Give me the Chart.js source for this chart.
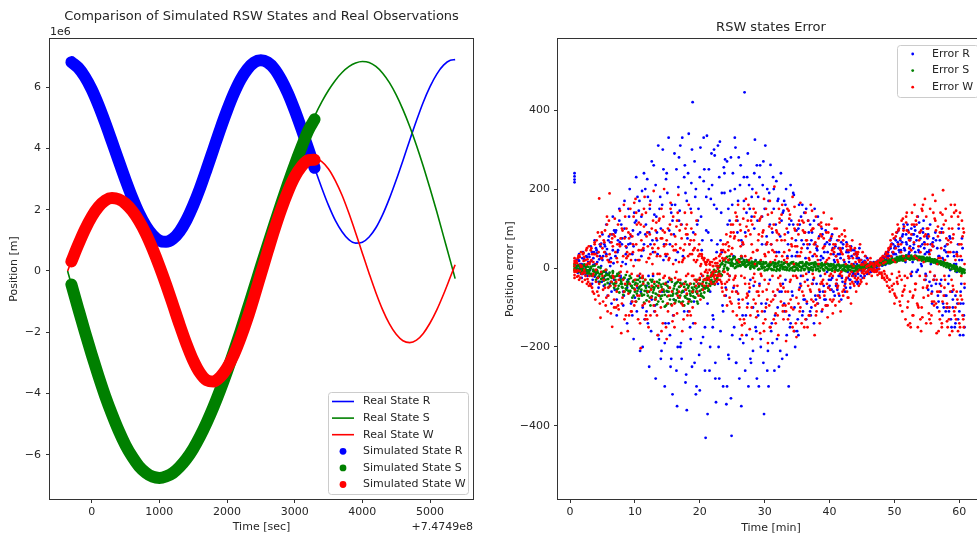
<!DOCTYPE html>
<html>
<head>
<meta charset="utf-8">
<title>RSW states</title>
<script src="https://cdn.jsdelivr.net/npm/chart.js@4.4.1/dist/chart.umd.min.js"></script>
<style>
  html, body { margin: 0; padding: 0; background: #fff; }
  #wrap { position: relative; width: 977px; height: 540px; overflow: hidden; background: #fff; }
  #left { position: absolute; left: 0; top: 0; width: 490px; height: 540px; }
  #right { position: absolute; left: 490px; top: 0; width: 500px; height: 540px; }
</style>
</head>
<body>
<div id="wrap">
  <canvas id="left" width="490" height="540"></canvas>
  <canvas id="right" width="500" height="540"></canvas>
</div>
<script>
// ---- RSW positions (units of 1e6 m), time in s after 7.4749e8 ----
const realTime = [-356, -300, -200, -100, 0, 100, 200, 300, 400, 500, 600, 700, 800, 900, 1000,
  1100, 1200, 1300, 1400, 1500, 1600, 1700, 1800, 1900, 2000, 2100, 2200, 2300, 2400,
  2500, 2600, 2700, 2800, 2900, 3000, 3100, 3200, 3300, 3400, 3500, 3600, 3700, 3800, 3900,
  4000, 4100, 4200, 4300, 4400, 4500, 4600, 4700, 4800, 4900, 5000, 5100, 5200, 5300, 5371];
const realR = [6.86, 6.82, 6.64, 6.34, 5.93, 5.42, 4.84, 4.22, 3.59, 2.97, 2.39, 1.88, 1.47, 1.17, 0.99,
  0.95, 1.05, 1.29, 1.66, 2.14, 2.70, 3.33, 3.98, 4.63, 5.24, 5.79, 6.25, 6.59, 6.81,
  6.88, 6.81, 6.60, 6.25, 5.80, 5.25, 4.64, 3.99, 3.33, 2.71, 2.14, 1.65, 1.28, 1.02, 0.91,
  0.94, 1.11, 1.41, 1.84, 2.37, 2.97, 3.61, 4.27, 4.91, 5.51, 6.02, 6.43, 6.72, 6.88, 6.90];
const realS = [0, -0.44, -1.22, -1.99, -2.73, -3.43, -4.09, -4.68, -5.22, -5.69, -6.07, -6.38, -6.59, -6.72, -6.76,
  -6.71, -6.60, -6.40, -6.14, -5.81, -5.41, -4.95, -4.44, -3.88, -3.28, -2.64, -1.97, -1.27, -0.57,
  0.14, 0.84, 1.52, 2.19, 2.84, 3.46, 4.04, 4.58, 5.08, 5.52, 5.90, 6.22, 6.48, 6.67, 6.79,
  6.84, 6.81, 6.68, 6.46, 6.15, 5.75, 5.27, 4.72, 4.10, 3.42, 2.69, 1.93, 1.13, 0.33, -0.25];
const realW = [0, 0.31, 0.85, 1.35, 1.77, 2.09, 2.30, 2.38, 2.34, 2.20, 1.96, 1.63, 1.22, 0.72, 0.16,
  -0.45, -1.10, -1.76, -2.38, -2.92, -3.33, -3.57, -3.61, -3.46, -3.17, -2.74, -2.19, -1.56, -0.85,
  -0.11, 0.63, 1.35, 2.01, 2.59, 3.07, 3.41, 3.62, 3.67, 3.57, 3.33, 2.95, 2.47, 1.89, 1.25,
  0.58, -0.08, -0.71, -1.27, -1.73, -2.07, -2.28, -2.34, -2.26, -2.04, -1.70, -1.27, -0.76, -0.20, 0.20];

const simTime = [-300, -200, -100, 0, 100, 200, 300, 400, 500, 600, 700, 800, 900, 1000,
  1100, 1200, 1300, 1400, 1500, 1600, 1700, 1800, 1900, 2000, 2100, 2200, 2300, 2400,
  2500, 2600, 2700, 2800, 2900, 3000, 3100, 3200, 3294];
const simR = [6.82, 6.64, 6.34, 5.93, 5.42, 4.84, 4.22, 3.59, 2.97, 2.39, 1.88, 1.47, 1.17, 0.99,
  0.95, 1.05, 1.29, 1.66, 2.14, 2.70, 3.33, 3.98, 4.63, 5.24, 5.79, 6.25, 6.59, 6.81,
  6.88, 6.81, 6.60, 6.25, 5.80, 5.25, 4.64, 3.99, 3.37];
const simS = [-0.44, -1.22, -1.99, -2.73, -3.43, -4.09, -4.68, -5.22, -5.69, -6.07, -6.38, -6.59, -6.72, -6.76,
  -6.71, -6.60, -6.40, -6.14, -5.81, -5.41, -4.95, -4.44, -3.88, -3.28, -2.64, -1.97, -1.27, -0.57,
  0.14, 0.84, 1.52, 2.19, 2.84, 3.46, 4.04, 4.58, 4.95];
const simW = [0.31, 0.85, 1.35, 1.77, 2.09, 2.30, 2.38, 2.34, 2.20, 1.96, 1.63, 1.22, 0.72, 0.16,
  -0.45, -1.10, -1.76, -2.38, -2.92, -3.33, -3.57, -3.61, -3.46, -3.17, -2.74, -2.19, -1.56, -0.85,
  -0.11, 0.63, 1.35, 2.01, 2.59, 3.07, 3.41, 3.62, 3.63];

const posTicks = [-6, -4, -2, 0, 2, 4, 6];
const secTicks = [0, 1000, 2000, 3000, 4000, 5000];

// ---- errors (m) against time (min), interleaved sample sets ----
const errTime = [0.7, 0.7, 0.7, 0.7,
  0.9, 1.1, 1.3, 1.5, 1.7, 1.9, 2.1, 2.3, 2.5, 2.7,
  2.9, 3.1, 3.3, 3.5, 3.7, 3.9, 4.1, 4.3, 4.5, 4.7,
  4.9, 5.1, 5.3, 5.5, 5.7, 5.9, 6.1, 6.3, 6.5, 6.7,
  6.9, 7.1, 7.3, 7.5, 7.7, 7.9, 8.1, 8.3, 8.5, 8.7,
  8.9, 9.1, 9.3, 9.5, 9.7, 9.9, 10.1, 10.3, 10.5, 10.7,
  10.9, 11.1, 11.3, 11.5, 11.7, 11.9, 12.1, 12.3, 12.5, 12.7,
  12.9, 13.1, 13.3, 13.5, 13.7, 13.9, 14.1, 14.3, 14.5, 14.7,
  14.9, 15.1, 15.3, 15.5, 15.7, 15.9, 16.1, 16.3, 16.5, 16.7,
  16.9, 17.1, 17.3, 17.5, 17.7, 17.9, 18.1, 18.3, 18.5, 18.7,
  18.9, 19.1, 19.3, 19.5, 19.7, 19.9, 20.1, 20.3, 20.5, 20.7,
  20.9, 21.1, 21.3, 21.5, 21.7, 21.9, 22.1, 22.3, 22.5, 22.7,
  22.9, 23.1, 23.3, 23.5, 23.7, 23.9, 24.1, 24.3, 24.5, 24.7,
  24.9, 25.1, 25.3, 25.5, 25.7, 25.9, 26.1, 26.3, 26.5, 26.7,
  26.9, 27.1, 27.3, 27.5, 27.7, 27.9, 28.1, 28.3, 28.5, 28.7,
  28.9, 29.1, 29.3, 29.5, 29.7, 29.9, 30.1, 30.3, 30.5, 30.7,
  30.9, 31.1, 31.3, 31.5, 31.7, 31.9, 32.1, 32.3, 32.5, 32.7,
  32.9, 33.1, 33.3, 33.5, 33.7, 33.9, 34.1, 34.3, 34.5, 34.7,
  34.9, 35.1, 35.3, 35.5, 35.7, 35.9, 36.1, 36.3, 36.5, 36.7,
  36.9, 37.1, 37.3, 37.5, 37.7, 37.9, 38.1, 38.3, 38.5, 38.7,
  38.9, 39.1, 39.3, 39.5, 39.7, 39.9, 40.1, 40.3, 40.5, 40.7,
  40.9, 41.1, 41.3, 41.5, 41.7, 41.9, 42.1, 42.3, 42.5, 42.7,
  42.9, 43.1, 43.3, 43.5, 43.7, 43.9, 44.1, 44.3, 44.5, 44.7,
  44.9, 45.1, 45.3, 45.5, 45.7, 45.9, 46.1, 46.3, 46.5, 46.7,
  46.9, 47.1, 47.3, 47.5, 47.7, 47.9, 48.1, 48.3, 48.5, 48.7,
  48.9, 49.1, 49.3, 49.5, 49.7, 49.9, 50.1, 50.3, 50.5, 50.7,
  50.9, 51.1, 51.3, 51.5, 51.7, 51.9, 52.1, 52.3, 52.5, 52.7,
  52.9, 53.1, 53.3, 53.5, 53.7, 53.9, 54.1, 54.3, 54.5, 54.7,
  54.9, 55.1, 55.3, 55.5, 55.7, 55.9, 56.1, 56.3, 56.5, 56.7,
  56.9, 57.1, 57.3, 57.5, 57.7, 57.9, 58.1, 58.3, 58.5, 58.7,
  58.9, 59.1, 59.3, 59.5, 59.7, 59.9, 60.1, 60.3, 60.5, 60.7];
const errR = [217, 224, 232, 240,
  12, -8, 20, 5, -15, 25, -10, 8, 30, -20,
  35, -5, 18, -30, 40, 10, 45, -25, 22, 55,
  -35, 30, 60, -10, 48, 70, -40, 25, 85, 12,
  -55, 95, 40, -20, 65, 110, 15, -70, 78, 52,
  -30, 130, 62, -85, 95, 140, 20, -110, 85, 170,
  -60, 195, 45, -130, 110, 225, -20, 150, -160, 70,
  260, -95, 130, 35, -180, 180, -210, 300, 60, -140,
  240, -35, 95, -250, 160, -120, 290, 20, -350, 205,
  145, -190, 330, -60, 260, -270, 75, 340, -150, 215,
  420, -85, 180, -300, 120, -220, 305, 45, -175, 250,
  -430, 335, 90, -260, 175, 210, -130, 285, -340, 60,
  -200, 320, 140, -95, 255, 275, -345, 110, -230, 195,
  -425, 240, -150, 305, -60, 170, -280, 260, 25, -190,
  445, -120, 230, -300, 150, -240, 200, -45, 325, -160,
  120, -300, 260, -90, 210, -370, 310, 80, -210, 190,
  261, -140, 230, -260, 110, -180, 175, -60, 240, -230,
  145, -110, 200, 30, -300, -150, 120, -70, 185, -200,
  95, -130, 160, -40, 70, -110, 140, 25, -90, 120,
  60, -120, 90, -30, 150, -80, 45, 110, -60, 30,
  85, -45, 60, -95, 40, -30, 70, -55, 50, 20,
  55, -40, 35, -70, 25, -25, 60, 15, -50, 45,
  40, -30, 55, -20, 10, -15, 35, -40, 25, 5,
  20, -25, 10, 30, -10, 8, -12, 15, 2, -5,
  5, 10, -3, 8, 12, 15, 6, 20, 10, 18,
  25, 12, 30, 18, 40, 35, 55, 20, 65, 45,
  70, 30, 85, 50, 15, 60, 95, 40, 75, -10,
  50, 105, 25, 80, 45, 90, 10, 60, 120, 35,
  -20, 75, 40, 110, -45, 65, -30, 90, 20, -70,
  30, -60, 100, -90, 45, -110, 60, -40, 80, -130,
  -60, 40, -150, 10, -90, 100, -170, -40, 50, -120];
const errS = [3, -6, 8, -2,
  2, -5, 6, -3, 0, -8, 4, -12, 3, -6,
  -10, -2, -15, 5, -8, -18, -5, -12, -22, 0,
  -15, -25, -8, -30, -18, -28, -12, -35, -20, -40,
  -22, -38, -15, -45, -30, -35, -50, -25, -42, -55,
  -40, -28, -58, -45, -35, -52, -38, -65, -30, -48,
  -45, -70, -35, -58, -50, -62, -40, -75, -52, -30,
  -55, -80, -45, -68, -38, -72, -48, -85, -60, -42,
  -58, -90, -50, -70, -35, -65, -45, -82, -55, -75,
  -48, -88, -60, -40, -72, -55, -78, -45, -65, -85,
  -62, -40, -75, -52, -90, -45, -70, -55, -35, -62,
  -50, -30, -58, -40, -22, -35, -15, -42, -8, -25,
  -12, 5, -20, 10, -2, 8, 15, -5, 20, 12,
  18, 5, 25, 10, 15, 12, 22, 5, 15, 8,
  10, 3, 15, 8, 12, 6, 12, 2, 9, 5,
  12, -2, 16, 4, 9, 1, 13, -4, 8, 3,
  7, -5, 14, 2, 10, -3, 11, -6, 8, 4,
  10, -4, 14, 1, 7, -2, 12, -6, 9, 3,
  11, -3, 6, 14, 0, 5, -5, 9, 13, -1,
  8, -4, 12, 1, 9, -5, 10, 4, -7, 8,
  6, -6, 11, 2, -2, 7, -4, 9, 0, 5,
  -3, 7, -6, 5, 1, 6, -5, 3, -8, 2,
  -4, 5, -7, 3, 6, 1, -6, 4, -2, 0,
  -2, 4, 0, 6, 2, 5, 1, 8, 3, 9,
  5, 8, 6, 10, 7, 9, 12, 8, 14, 11,
  13, 16, 12, 18, 15, 17, 20, 15, 22, 19,
  21, 24, 19, 26, 22, 24, 27, 22, 28, 25,
  26, 29, 24, 27, 25, 25, 28, 22, 26, 24,
  22, 25, 19, 23, 20, 18, 21, 15, 19, 16,
  14, 17, 10, 15, 12, 9, 12, 5, 10, 6,
  3, 7, 0, 4, -2, -4, 1, -8, -3, -10];
const errW = [12, -18, 25, -5,
  15, -22, 30, -8, 40, -35, 18, -12, 45, -28,
  55, -40, 20, -60, 35, -80, 70, -25, 176, -126,
  90, -55, 40, -95, 110, -70, 189, 15, -149, 85,
  125, -100, 60, -30, 145, -165, 95, -60, 130, 25,
  -160, 75, 150, -110, 40, 165, -85, 110, -130, 20,
  -203, 135, -40, 180, -120, 90, -150, 160, -75, 50,
  195, -110, 75, -170, 120, -60, 150, -140, 200, 35,
  -180, 100, -25, 165, -95, 130, -150, 60, -115, 185,
  -75, 110, -160, 45, 140, 85, -120, 160, -40, 100,
  -100, 70, -140, 120, -30, 60, -80, 35, -55, 25,
  -30, 15, -45, 10, -20, -15, 5, -28, -8, 12,
  -20, 18, -35, 25, -10, 40, -55, 65, -30, 80,
  -90, 110, -45, 140, -120, 160, -100, 55, -170, 125,
  -140, 175, -65, 95, -155, 120, -180, 150, -35, 190,
  -110, 85, -165, 130, -60, 175, -130, 60, -190, 105,
  -150, 140, -80, 206, -115, 90, -170, 125, -45, 160,
  -130, 70, -185, 150, -90, 135, -100, 180, -160, 55,
  -175, 110, -55, 165, -140, 95, -150, 140, -85, 120,
  -120, 160, -40, 100, -170, 130, -90, 75, -140, 115,
  -105, 140, -60, 90, -125, 110, -80, 125, -115, 50,
  -95, 100, -45, 80, -110, 85, -70, 95, -30, 60,
  -75, 55, -90, 70, -40, 50, -60, 35, -45, 60,
  -35, 40, -25, 30, -40, 20, -15, 25, -20, 10,
  -10, 15, -5, 8, -12, 18, -25, 30, -15, 35,
  -45, 50, -30, 60, -55, 75, -70, 90, -40, 100,
  -95, 120, -60, 105, -130, 140, -85, 70, -150, 110,
  -120, 160, -40, 130, -100, 90, -160, 145, -75, 175,
  -140, 60, -115, 150, -65, 185, -95, 120, -165, 80,
  -110, 140, -150, 197, -50, 120, -135, 70, -100, 160,
  -160, 85, -120, 145, -80, 110, -150, 60, -120, 90];
const errW4 = [5, -10, 18, -25,
  -8, 12, -20, 28, 3, -15, 38, -30, 8, 22,
  -45, 15, 50, -20, -65, 35, 10, 90, -40, 60,
  25, -85, 65, -5, 130, -50, 35, -115, 75, -25,
  80, -35, 15, -105, 55, 5, -75, 160, -40, 100,
  30, -120, 85, -15, 60, -95, 175, -45, 20, -70,
  110, -25, 50, -90, 140, -130, 25, 85, -55, 10,
  -95, 40, 115, -15, -70, 30, -160, 95, 55, -40,
  70, -110, 25, 150, -60, 10, -90, 45, 120, -30,
  95, -45, 15, -130, 60, -20, 85, -85, 35, 140,
  -60, 20, 85, -35, 45, -40, 5, 30, -20, -45,
  10, -25, 20, -5, -35, 15, -10, -40, 25, -20,
  5, -30, 45, -60, 20, -40, 85, -15, 55, -85,
  35, -110, 75, -20, 130, -65, 15, 95, -145, 60,
  -25, 80, -100, 160, -50, 25, 110, -80, 10, -125,
  45, -70, 125, -20, 90, -160, 30, -55, 135, -95,
  15, 100, -60, 40, -140, 70, -25, 115, -85, 30,
  -50, 85, -110, 25, 145, -35, 60, -150, 10, 95,
  -75, 30, 120, -100, 50, -20, 90, -130, 70, -45,
  20, -60, 145, -85, 35, -120, 55, 10, -75, 105,
  -40, 75, -15, 110, -95, 25, -55, 80, -20, 40,
  60, -30, 15, -85, 45, -20, 70, -45, 10, -60,
  30, -15, 50, -35, 5, -25, 40, -10, 20, -40,
  8, -5, -15, 12, 3, -10, 6, 14, -4, 9,
  -3, 10, -8, 18, -14, 25, -20, 12, -30, 40,
  -25, 45, -60, 30, 85, -40, 15, -75, 110, -10,
  75, -30, 125, -55, 20, 95, -145, 50, -15, 140,
  -70, 30, 120, -90, 55, -20, 95, -125, 15, 60,
  130, -45, 80, -10, -120, 55, -85, 170, -30, 105,
  -60, 25, -140, 90, -20, 150, -90, 40, -170, 65,
  100, -55, 160, -130, 30, -90, 140, -20, 80, -150];

const errTime2 = [
  1.0, 1.2, 1.4, 1.6, 1.8, 2.0, 2.2, 2.4, 2.6, 2.8,
  3.0, 3.2, 3.4, 3.6, 3.8, 4.0, 4.2, 4.4, 4.6, 4.8,
  5.0, 5.2, 5.4, 5.6, 5.8, 6.0, 6.2, 6.4, 6.6, 6.8,
  7.0, 7.2, 7.4, 7.6, 7.8, 8.0, 8.2, 8.4, 8.6, 8.8,
  9.0, 9.2, 9.4, 9.6, 9.8, 10.0, 10.2, 10.4, 10.6, 10.8,
  11.0, 11.2, 11.4, 11.6, 11.8, 12.0, 12.2, 12.4, 12.6, 12.8,
  13.0, 13.2, 13.4, 13.6, 13.8, 14.0, 14.2, 14.4, 14.6, 14.8,
  15.0, 15.2, 15.4, 15.6, 15.8, 16.0, 16.2, 16.4, 16.6, 16.8,
  17.0, 17.2, 17.4, 17.6, 17.8, 18.0, 18.2, 18.4, 18.6, 18.8,
  19.0, 19.2, 19.4, 19.6, 19.8, 20.0, 20.2, 20.4, 20.6, 20.8,
  21.0, 21.2, 21.4, 21.6, 21.8, 22.0, 22.2, 22.4, 22.6, 22.8,
  23.0, 23.2, 23.4, 23.6, 23.8, 24.0, 24.2, 24.4, 24.6, 24.8,
  25.0, 25.2, 25.4, 25.6, 25.8, 26.0, 26.2, 26.4, 26.6, 26.8,
  27.0, 27.2, 27.4, 27.6, 27.8, 28.0, 28.2, 28.4, 28.6, 28.8,
  29.0, 29.2, 29.4, 29.6, 29.8, 30.0, 30.2, 30.4, 30.6, 30.8,
  31.0, 31.2, 31.4, 31.6, 31.8, 32.0, 32.2, 32.4, 32.6, 32.8,
  33.0, 33.2, 33.4, 33.6, 33.8, 34.0, 34.2, 34.4, 34.6, 34.8,
  35.0, 35.2, 35.4, 35.6, 35.8, 36.0, 36.2, 36.4, 36.6, 36.8,
  37.0, 37.2, 37.4, 37.6, 37.8, 38.0, 38.2, 38.4, 38.6, 38.8,
  39.0, 39.2, 39.4, 39.6, 39.8, 40.0, 40.2, 40.4, 40.6, 40.8,
  41.0, 41.2, 41.4, 41.6, 41.8, 42.0, 42.2, 42.4, 42.6, 42.8,
  43.0, 43.2, 43.4, 43.6, 43.8, 44.0, 44.2, 44.4, 44.6, 44.8,
  45.0, 45.2, 45.4, 45.6, 45.8, 46.0, 46.2, 46.4, 46.6, 46.8,
  47.0, 47.2, 47.4, 47.6, 47.8, 48.0, 48.2, 48.4, 48.6, 48.8,
  49.0, 49.2, 49.4, 49.6, 49.8, 50.0, 50.2, 50.4, 50.6, 50.8,
  51.0, 51.2, 51.4, 51.6, 51.8, 52.0, 52.2, 52.4, 52.6, 52.8,
  53.0, 53.2, 53.4, 53.6, 53.8, 54.0, 54.2, 54.4, 54.6, 54.8,
  55.0, 55.2, 55.4, 55.6, 55.8, 56.0, 56.2, 56.4, 56.6, 56.8,
  57.0, 57.2, 57.4, 57.6, 57.8, 58.0, 58.2, 58.4, 58.6, 58.8,
  59.0, 59.2, 59.4, 59.6, 59.8, 60.0, 60.2, 60.4, 60.6, 60.8];
const errR2 = [
  5, -12, 18, -4, 10, -15, 22, 3, -8, 15,
  28, -18, 40, 8, -22, 50, 15, -35, 30, 62,
  20, -45, 55, 35, -15, 80, 5, -60, 45, 95,
  30, -80, 70, 120, -25, 60, -95, 100, 35, -50,
  150, -40, 80, -120, 55, -75, 120, 180, -20, 90,
  130, -100, 60, 200, -45, -140, 90, 170, -80, 40,
  -110, 210, 70, -170, 150, 100, -60, 250, -190, 30,
  190, -140, 60, -230, 120, -80, 160, -260, 40, 280,
  -200, 110, -40, 230, -290, 170, -110, 60, -180, 300,
  90, -240, 200, -60, 150, -310, 130, -20, 220, -150,
  180, -90, 250, -200, 70, -120, 300, -280, 150, -40,
  230, -160, 40, -300, 190, -70, 270, -220, 120, -330,
  160, -50, 200, -240, 90, 280, -180, 70, -120, 230,
  -260, 140, -90, 210, -30, 180, -210, 100, -150, 260,
  -120, 230, -180, 60, -240, 150, -90, 200, -300, 110,
  -160, 90, 200, -120, 40, 170, -250, 80, -60, 140,
  -90, 160, -170, 60, 110, -140, 30, 190, -100, 70,
  -160, 100, -50, 130, -120, 60, -80, 150, -30, 90,
  -110, 70, -40, 120, -70, 50, -90, 80, -20, 100,
  -60, 40, -80, 65, 10, -45, 75, -25, 35, -70,
  30, -55, 50, -20, 65, -35, 20, -60, 40, -10,
  25, -30, 45, -15, 35, -20, 10, -35, 20, -5,
  12, -8, 18, 0, -15, 6, -4, 10, 3, -2,
  8, 2, 14, -3, 10, 20, 12, 25, 8, 30,
  40, 20, 50, 28, 60, 75, 35, 90, 55, 25,
  45, 80, 100, 20, 65, 110, 35, 70, -20, 85,
  60, 95, -10, 130, 40, 75, 5, 100, 50, -30,
  80, -55, 45, 10, -90, 55, -20, 70, -100, 30,
  -40, 90, -120, 20, -70, 40, -100, -20, 75, -150,
  -80, 30, -140, -10, 60, -110, -60, 20, -90, -150];
const errS2 = [
  -4, 7, -9, 2, -1, 5, -10, -3, 8, -14,
  -6, 3, -18, -8, 6, -12, -25, 2, -16, -28,
  -10, -32, -20, -5, -38, -18, -45, -25, -8, -42,
  -30, -20, -52, -12, -40, -48, -28, -60, -18, -45,
  -35, -62, -25, -50, -70, -42, -30, -58, -78, -35,
  -55, -25, -68, -45, -82, -38, -60, -30, -72, -48,
  -40, -65, -92, -50, -30, -78, -55, -40, -68, -95,
  -45, -60, -80, -28, -70, -52, -88, -38, -62, -48,
  -70, -42, -58, -95, -35, -68, -50, -80, -40, -60,
  -55, -75, -30, -65, -48, -58, -40, -72, -50, -28,
  -45, -20, -55, -32, -12, -40, -5, -30, 5, -18,
  2, -15, 12, -8, 20, 25, 0, 14, 30, 6,
  22, 10, 28, 2, 18, 5, 16, 25, 9, 20,
  14, 6, 18, 10, 2, 12, 4, 15, 7, 11,
  14, -3, 10, -1, 15, 2, 12, -5, 7, 10,
  -2, 12, -5, 9, 3, 13, -4, 6, 15, 0,
  2, 14, -3, 9, -6, 12, 0, 15, 4, -4,
  7, -6, 13, 2, 15, -2, 9, 4, 12, -5,
  -1, 11, -5, 13, 3, 9, -3, 10, 0, 12,
  8, -5, 10, 0, 9, -4, 5, -7, 9, 2,
  1, 8, -5, 6, -8, 5, -2, -6, 7, -1,
  -5, 4, 1, -7, 5, -2, 3, -6, 6, 0,
  0, 6, -3, 8, 2, 7, 1, 11, 4, 9,
  8, 11, 6, 13, 9, 12, 15, 10, 17, 13,
  15, 19, 13, 21, 17, 19, 23, 17, 25, 20,
  23, 27, 20, 29, 24, 26, 30, 23, 28, 22,
  28, 24, 30, 22, 27, 23, 27, 20, 25, 21,
  24, 20, 26, 17, 22, 17, 20, 13, 18, 14,
  13, 16, 9, 14, 11, 8, 11, 3, 9, 4,
  2, 6, -3, 3, -5, -6, -1, -10, -4, -12];
const errS3 = [
  1, -7, 4, -11, 6, -2, 9, -6, -13, 3,
  -14, 0, -20, -4, -10, -30, -7, -22, -35, -13,
  -26, -10, -42, -15, -28, -48, -22, -36, -12, -50,
  -38, -55, -18, -62, -30, -40, -68, -25, -52, -35,
  -58, -20, -45, -75, -32, -60, -85, -40, -52, -25,
  -65, -42, -88, -30, -58, -70, -48, -95, -35, -62,
  -50, -75, -35, -85, -60, -42, -70, -55, -98, -38,
  -72, -50, -30, -92, -58, -80, -40, -65, -35, -85,
  -38, -62, -85, -48, -75, -42, -90, -58, -70, -50,
  -72, -48, -60, -85, -40, -30, -65, -45, -75, -52,
  -38, -50, -25, -45, -30, -20, -35, -10, -28, 0,
  -8, 8, -18, 18, 4, 15, 28, -2, 22, 10,
  12, 26, 0, 20, 6, 22, 8, 30, 12, 18,
  4, 20, 8, 14, -2, 16, 10, 0, 18, 6,
  -4, 11, 16, 3, 9, -6, 14, 5, -2, 12,
  10, -4, 6, 13, -7, 5, 16, 0, 8, -3,
  13, 3, -5, 10, 6, -1, 14, 2, -7, 11,
  0, 10, 3, -6, 12, 6, -3, 14, 1, 9,
  11, 2, -6, 7, 14, -2, 5, -8, 9, 3,
  -3, 7, 1, 11, -5, 4, 10, -2, 6, -6,
  4, -6, 9, 0, 5, -4, 8, 2, -7, 6,
  3, -5, 7, 0, -8, 4, -3, 6, -1, 2,
  4, -2, 6, 1, 9, 3, 5, 10, 2, 12,
  10, 6, 14, 9, 16, 11, 18, 13, 20, 15,
  18, 22, 14, 24, 20, 23, 17, 27, 21, 29,
  20, 30, 25, 19, 32, 24, 28, 21, 31, 26,
  22, 31, 26, 20, 29, 25, 19, 28, 23, 17,
  26, 18, 23, 15, 21, 14, 22, 12, 17, 10,
  16, 8, 13, 5, 11, 2, 9, 0, 7, -3,
  4, -2, -8, 1, -6, -9, -3, -14, -7, -5];
const errW2 = [
  -10, 25, -30, 8, -15, 35, -5, 20, -40, 12,
  -20, 45, -50, 15, 60, -35, 30, -70, 80, -10,
  50, -30, 95, -75, 20, 120, -45, 65, -20, -100,
  40, -60, 110, -20, 75, -90, 30, -130, 55, -10,
  90, -40, 20, -85, 130, -55, 60, -20, 115, -140,
  45, -95, 150, -30, 80, -60, 25, -120, 100, -15,
  60, -80, 30, -45, 125, -100, 75, -25, 90, -150,
  35, -70, 110, -30, 55, -120, 80, -10, 140, -60,
  50, -90, 20, -40, 100, -65, 30, -110, 70, -20,
  45, -30, 15, -60, 30, -25, 10, -40, 20, -10,
  -5, 20, -30, 8, -18, 5, -22, 12, -35, -2,
  30, -20, -50, 45, -10, 60, -35, 20, -75, 90,
  50, -30, 80, -60, 20, -90, 110, -20, 65, -130,
  30, -75, 120, -40, 85, -100, 40, -15, 140, -60,
  70, -45, 20, -110, 95, -30, 150, -80, 40, -150,
  60, -20, 110, -70, 30, -120, 85, -40, 135, -95,
  20, -60, 100, -130, 45, -30, 75, -105, 155, -20,
  55, -90, 30, -45, 120, -70, 90, -15, 60, -120,
  40, -80, 100, -25, 65, -110, 20, -55, 85, -35,
  50, -70, 15, -40, 90, -20, 35, -85, 60, -10,
  30, -50, 70, -15, 40, -60, 20, -35, 55, -75,
  25, -40, 10, -20, 35, -15, 30, -25, 15, -30,
  10, -8, 15, -12, 5, -5, 8, -3, 12, -6,
  4, -10, 12, -2, 8, -15, 22, -8, 28, -20,
  35, -30, 55, -45, 20, -65, 80, -25, 60, -85,
  40, -70, 95, -20, 115, -100, 30, -60, 85, -120,
  65, -40, 110, -95, 20, -130, 150, -50, 80, -20,
  100, -70, 35, -140, 60, -30, 125, -90, 10, -160,
  90, -45, 135, -70, 20, -100, 60, -130, 40, -30,
  75, -110, 20, -60, 130, -140, 30, -80, 100, -40];
// third pass for R and W on the errTime2 instants
const errR3 = [
  20, -2, 35, 10, -25, 40, 5, -18, 28, -6,
  15, 55, -40, 25, 70, -15, 38, -50, 60, 5,
  85, -25, 40, 110, -70, 20, 65, -90, 130, -30,
  90, -120, 45, 150, -20, 75, -60, 170, 10, -140,
  60, 200, -90, 35, -180, 115, 230, -50, 145, -210,
  30, -200, 240, 85, -110, 180, -250, 60, 270, -20,
  135, -280, 90, 310, -70, -230, 160, 20, -300, 225,
  -60, 330, -170, 140, -320, 85, -40, 250, -200, 120,
  310, -230, 30, -110, 190, -360, 240, -80, 150, -250,
  -140, 270, -320, 110, -40, 230, -190, 70, 330, -260,
  95, -370, 200, -60, 290, -150, 160, -240, 40, 310,
  -280, 70, 190, -110, 240, -50, -300, 150, -20, 280,
  -170, 30, 330, -240, 120, -80, 210, -350, 60, 170,
  90, -170, 290, -60, -230, 130, -100, 240, 20, -280,
  180, -40, -200, 130, 270, -110, 60, -260, 170, -30,
  60, -190, 150, -70, 220, -100, 40, -210, 120, -40,
  170, -30, -220, 90, -120, 210, -60, 110, -160, 30,
  40, -170, 110, -20, 160, -80, 90, -130, 50, -10,
  110, -100, 30, -140, 60, -40, 130, -70, 20, -110,
  25, -80, 95, -10, -50, 60, -30, 85, -60, 15,
  -45, 70, -20, 35, -80, 50, -5, -40, 65, -25,
  15, -50, 30, -10, 45, -35, 25, -15, 50, -20,
  -8, 15, -20, 5, 25, -3, 12, -10, 6, 15,
  12, 5, 18, -2, 22, 10, 28, 15, 35, 20,
  30, 48, 15, 62, 38, 50, 70, 28, 95, 40,
  20, 65, 110, 45, 85, 30, 75, 55, 100, 15,
  85, 40, 70, -5, 115, 55, 20, 90, 65, -15,
  40, 85, -35, 60, -60, 75, 15, -40, 50, -85,
  70, -30, 25, -100, 55, -70, 30, -110, -5, -60,
  -100, 10, -70, 40, -130, 20, -90, 75, -170, -50];
const errW3 = [
  18, -6, 32, -25, 4, -12, 28, -20, 50, -35,
  10, -45, 35, -15, 65, -5, -60, 40, -90, 25,
  -20, 70, -50, 30, -110, 15, 85, -35, 55, -80,
  -45, 25, -95, 60, -10, 100, -30, 75, -120, 40,
  -65, 35, -110, 80, 5, -30, 140, -70, 45, -15,
  70, -20, 105, -130, 15, 55, -85, 35, -45, 120,
  -35, 95, -120, 50, -15, 75, -55, 130, -20, 60,
  -90, 20, -50, 85, -135, 45, -25, 105, -70, 15,
  -30, 75, -95, 25, -55, 110, -15, 60, -120, 35,
  -20, 50, -45, 20, -70, 35, -15, 25, -30, 15,
  8, -12, -25, 15, -40, -10, 22, -18, 5, -30,
  -15, 35, -40, 60, -70, 25, -95, 45, -20, 110,
  -60, 90, -25, 120, -45, 70, -130, 30, -80, 150,
  -40, 105, -70, 20, -120, 60, -25, 130, -90, 45,
  -60, 120, -15, 80, -140, 35, -100, 65, -40, 170,
  -85, 45, -130, 20, 95, -55, 150, -20, 70, -110,
  40, -95, 15, -60, 125, -80, 55, -20, 100, -140,
  -25, 85, -110, 40, -60, 115, -35, 70, -150, 25,
  -55, 95, -15, 60, -95, 30, -70, 110, -40, 80,
  -30, 55, -95, 20, -50, 70, -15, 45, -80, 100,
  -40, 20, -65, 50, -10, 35, -55, 80, -25, 45,
  -20, 45, -10, 25, -45, 15, -30, 40, -5, 20,
  -12, 8, -4, 14, -9, 6, -2, 10, -8, 4,
  -6, 14, -18, 6, 22, -12, 30, -25, 15, -35,
  25, -50, 70, -15, 40, -90, 50, -35, 95, -20,
  60, -110, 30, -45, 130, -25, 90, -140, 45, -75,
  110, -55, 25, -150, 70, 40, -100, 160, -30, 85,
  -50, 100, -130, 45, -85, 140, -20, 95, -60, 25,
  -130, 50, -85, 110, -30, 75, -150, 100, -60, 130,
  -45, 140, -100, 35, -160, 60, -70, 120, -130, 10];

const errTicks = [-400, -200, 0, 200, 400];
const minTicks = [0, 10, 20, 30, 40, 50, 60];

const FONT = '"DejaVu Sans", sans-serif';
const BLUE = '#0000ff', GREEN = '#008000', RED = '#ff0000';
const INK = '#262626', SPINE = '#333333';
const MINUS = '\u2212';

function toPoints(xs, ys, k) {
    return xs.map((x, i) => ({ x: x, y: ys[i] * k }));
}

function fmt(v) {
    return v < 0 ? MINUS + Math.abs(v) : String(v);
}

// frame, titles, axis labels and legend box drawn on top of each chart
function decorations(cfg) {
    return {
        id: 'decorations',
        afterDraw(chart) {
            const { ctx, chartArea: a } = chart;
            const cx = (a.left + a.right) / 2;
            const cy = (a.top + a.bottom) / 2;
            ctx.save();
            ctx.strokeStyle = SPINE;
            ctx.lineWidth = 1;
            ctx.strokeRect(a.left - 0.5, a.top - 0.5, a.right - a.left + 1, a.bottom - a.top + 1);

            ctx.fillStyle = INK;
            ctx.textBaseline = 'middle';
            ctx.textAlign = 'center';
            ctx.font = '13px ' + FONT;
            ctx.fillText(cfg.title, cx, cfg.titleY);
            ctx.font = '11px ' + FONT;
            ctx.fillText(cfg.xLabel, cx, cfg.xLabelY);
            ctx.save();
            ctx.translate(cfg.yLabelX, cy);
            ctx.rotate(-Math.PI / 2);
            ctx.fillText(cfg.yLabel, 0, 0);
            ctx.restore();
            cfg.notes.forEach(n => {
                ctx.textAlign = n.align;
                ctx.fillText(n.text, n.x, n.y);
            });

            // legend
            const lg = cfg.legend;
            ctx.beginPath();
            ctx.roundRect(lg.x + 0.5, lg.y + 0.5, lg.w, lg.h, 3);
            ctx.fillStyle = 'rgba(255,255,255,0.8)';
            ctx.fill();
            ctx.strokeStyle = '#cccccc';
            ctx.stroke();
            ctx.textAlign = 'left';
            lg.items.forEach((it, i) => {
                const y = lg.y0 + i * lg.dy;
                if (it.kind === 'line') {
                    ctx.strokeStyle = it.color;
                    ctx.lineWidth = 1.6;
                    ctx.beginPath();
                    ctx.moveTo(lg.lineX0, y);
                    ctx.lineTo(lg.lineX1, y);
                    ctx.stroke();
                } else {
                    ctx.fillStyle = it.color;
                    ctx.beginPath();
                    ctx.arc(lg.dotX, y, lg.dotR, 0, Math.PI * 2);
                    ctx.fill();
                }
                ctx.fillStyle = INK;
                ctx.fillText(it.label, lg.textX, y);
            });
            ctx.restore();
        }
    };
}

function axis(min, max, tickValues, fitKey, fitSize, label, pad) {
    return {
        type: 'linear',
        min: min,
        max: max,
        afterBuildTicks: s => { s.ticks = tickValues.map(v => ({ value: v })); },
        afterFit: s => { s[fitKey] = fitSize; },
        border: { display: false },
        grid: { drawOnChartArea: false, drawTicks: true, tickLength: 4, tickColor: SPINE, tickWidth: 1 },
        ticks: { color: INK, font: { family: FONT, size: 11 }, padding: pad, maxRotation: 0, autoSkip: false, callback: label }
    };
}

const common = {
    responsive: false,
    animation: false,
    devicePixelRatio: 1,
    events: [],
    plugins: { legend: { display: false }, tooltip: { enabled: false } }
};

// ---- left: real vs simulated RSW positions ----
function realLine(label, ys, color, order) {
    return {
        label: label, data: toPoints(realTime, ys, 1e6), showLine: true,
        borderColor: color, backgroundColor: color, borderWidth: 1.6,
        pointRadius: 0, cubicInterpolationMode: 'monotone', order: order
    };
}
function simBand(label, ys, color, order) {
    return {
        label: label, data: toPoints(simTime, ys, 1e6), showLine: true,
        borderColor: color, backgroundColor: color, borderWidth: 12,
        borderCapStyle: 'round', borderJoinStyle: 'round',
        pointRadius: 0, cubicInterpolationMode: 'monotone', order: order
    };
}

new Chart(document.getElementById('left'), {
    type: 'scatter',
    data: {
        datasets: [
            realLine('Real State R', realR, BLUE, 12),
            realLine('Real State S', realS, GREEN, 11),
            realLine('Real State W', realW, RED, 10),
            simBand('Simulated State R', simR, BLUE, 3),
            simBand('Simulated State S', simS, GREEN, 2),
            simBand('Simulated State W', simW, RED, 1)
        ]
    },
    options: Object.assign({}, common, {
        layout: { padding: { left: 0, top: 39, right: 17, bottom: 0 } },
        scales: {
            x: axis(-616, 5635, secTicks, 'height', 41, v => fmt(v), 3),
            y: axis(-7.448e6, 7.575e6, posTicks.map(v => v * 1e6), 'width', 50, v => fmt(Math.round(v / 1e6)), 5)
        }
    }),
    plugins: [decorations({
        title: 'Comparison of Simulated RSW States and Real Observations',
        titleY: 17,
        xLabel: 'Time [sec]', xLabelY: 527,
        yLabel: 'Position [m]', yLabelX: 14,
        notes: [
            { text: '1e6', x: 50, y: 32, align: 'left' },
            { text: '+7.4749e8', x: 473, y: 527, align: 'right' }
        ],
        legend: {
            x: 328, y: 392, w: 140, h: 102, y0: 401.5, dy: 16.6,
            lineX0: 332, lineX1: 354, dotX: 343, dotR: 3.4, textX: 363,
            items: [
                { label: 'Real State R', color: BLUE, kind: 'line' },
                { label: 'Real State S', color: GREEN, kind: 'line' },
                { label: 'Real State W', color: RED, kind: 'line' },
                { label: 'Simulated State R', color: BLUE, kind: 'dot' },
                { label: 'Simulated State S', color: GREEN, kind: 'dot' },
                { label: 'Simulated State W', color: RED, kind: 'dot' }
            ]
        }
    })]
});

// ---- right: RSW errors ----
function errSet(label, parts, color, order) {
    let pts = [];
    parts.forEach(p => { pts = pts.concat(toPoints(p[0], p[1], 1)); });
    return {
        label: label, data: pts, showLine: false,
        borderColor: color, backgroundColor: color, borderWidth: 0,
        pointRadius: 1.4, pointBorderWidth: 0, order: order
    };
}

new Chart(document.getElementById('right'), {
    type: 'scatter',
    data: {
        datasets: [
            errSet('Error R', [[errTime, errR], [errTime2, errR2], [errTime2, errR3]], BLUE, 3),
            errSet('Error S', [[errTime, errS], [errTime2, errS2], [errTime2, errS3]], GREEN, 2),
            errSet('Error W', [[errTime, errW], [errTime2, errW2], [errTime2, errW3], [errTime, errW4]], RED, 1)
        ]
    },
    options: Object.assign({}, common, {
        layout: { padding: { left: 0, top: 39, right: 6, bottom: 0 } },
        scales: {
            x: axis(-1.85, 63.8, minTicks, 'height', 41, v => fmt(v), 3),
            y: axis(-585, 580, errTicks, 'width', 68, v => fmt(v), 4)
        }
    }),
    plugins: [decorations({
        title: 'RSW states Error',
        titleY: 28,
        xLabel: 'Time [min]', xLabelY: 528,
        yLabel: 'Position error [m]', yLabelX: 20,
        notes: [],
        legend: {
            x: 407, y: 45, w: 81, h: 52, y0: 54, dy: 16.6,
            lineX0: 414, lineX1: 432, dotX: 422.7, dotR: 1.4, textX: 442,
            items: [
                { label: 'Error R', color: BLUE, kind: 'dot' },
                { label: 'Error S', color: GREEN, kind: 'dot' },
                { label: 'Error W', color: RED, kind: 'dot' }
            ]
        }
    })]
});
</script>
</body>
</html>
